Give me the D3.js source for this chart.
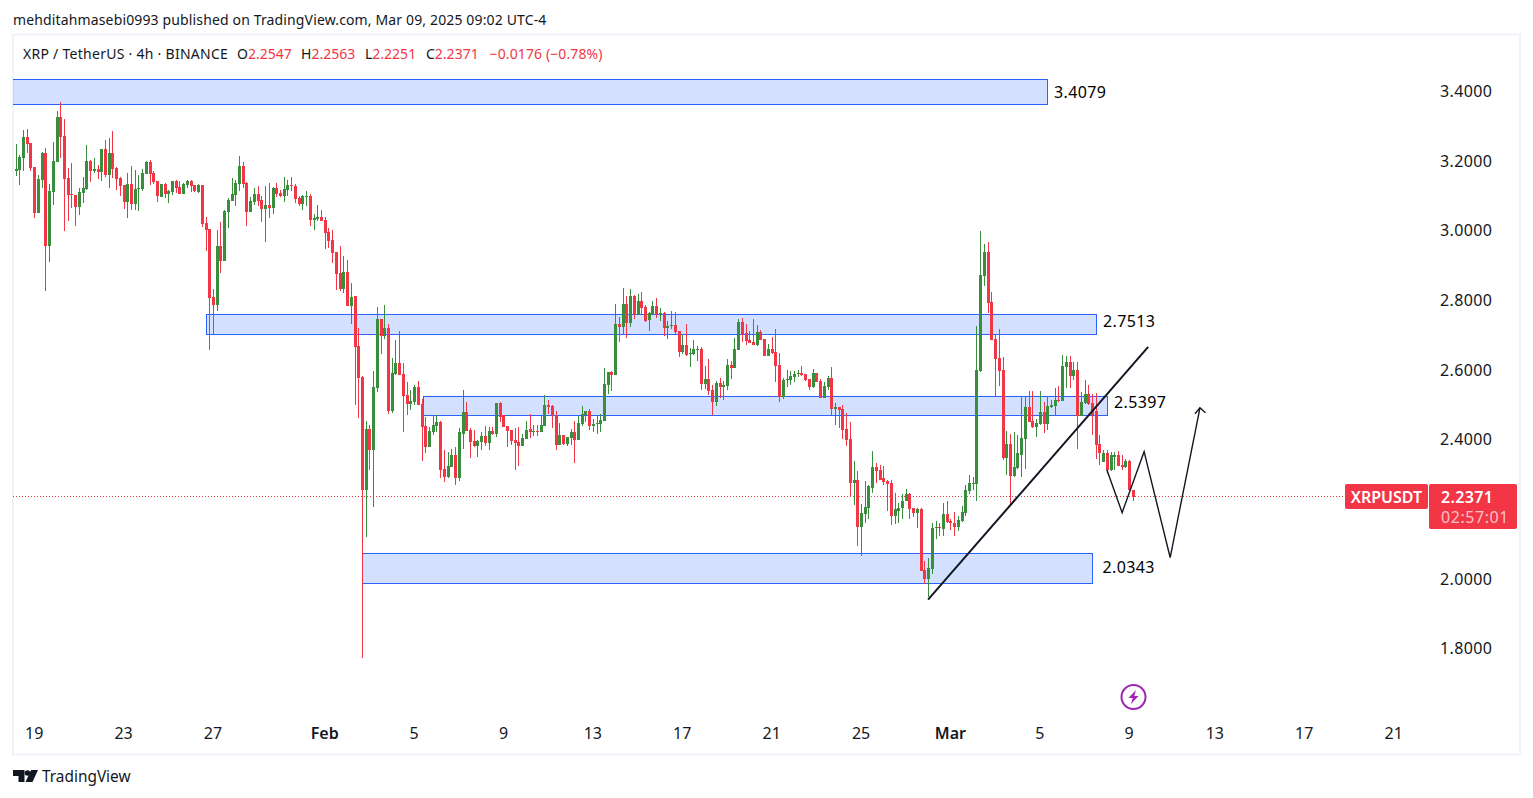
<!DOCTYPE html>
<html><head><meta charset="utf-8">
<style>html,body{margin:0;padding:0;background:#fff}svg{display:block}text{font-family:"Noto Sans",sans-serif}</style>
<script src="https://cdnjs.cloudflare.com/ajax/libs/d3/7.9.0/d3.min.js"></script>
</head><body><svg id="c" width="1533" height="798"></svg>
<script>
// [open, high, low, close], 4h bars from 2025-01-18 04:00
const candles1=[[3.173,3.250,3.156,3.178],[3.175,3.218,3.132,3.212],[3.209,3.290,3.172,3.270],[3.270,3.293,3.224,3.250],[3.252,3.252,3.172,3.181],[3.184,3.184,3.037,3.052],[3.052,3.161,3.052,3.149],[3.146,3.227,3.123,3.224],[3.224,3.238,2.828,2.957],[2.957,3.135,2.911,3.115],
[3.112,3.255,3.075,3.201],[3.198,3.344,3.198,3.327],[3.327,3.370,3.209,3.270],[3.272,3.321,3.000,3.149],[3.152,3.181,3.029,3.103],[3.106,3.195,3.066,3.103],[3.103,3.103,3.014,3.069],[3.069,3.123,3.046,3.112],[3.109,3.155,3.080,3.123],[3.120,3.247,3.118,3.201],
[3.201,3.204,3.141,3.172],[3.172,3.209,3.166,3.178],[3.178,3.189,3.149,3.169],[3.169,3.235,3.143,3.235],[3.235,3.261,3.155,3.161],[3.161,3.267,3.123,3.224],[3.224,3.287,3.152,3.178],[3.181,3.184,3.118,3.149],[3.152,3.155,3.100,3.129],[3.132,3.132,3.063,3.083],
[3.083,3.166,3.037,3.135],[3.135,3.186,3.060,3.077],[3.077,3.175,3.060,3.120],[3.120,3.161,3.057,3.123],[3.120,3.178,3.115,3.166],[3.163,3.201,3.163,3.198],[3.198,3.204,3.132,3.163],[3.166,3.172,3.135,3.141],[3.143,3.143,3.083,3.100],[3.097,3.135,3.097,3.135],
[3.135,3.138,3.095,3.106],[3.106,3.118,3.080,3.115],[3.112,3.143,3.103,3.143],[3.143,3.146,3.109,3.123],[3.126,3.143,3.106,3.106],[3.106,3.138,3.106,3.135],[3.132,3.146,3.123,3.143],[3.143,3.146,3.112,3.129],[3.132,3.132,3.112,3.115],[3.112,3.135,3.109,3.132],
[3.132,3.132,3.011,3.020],[3.023,3.040,2.943,3.003],[3.006,3.006,2.659,2.808],[2.811,2.834,2.702,2.788],[2.788,3.003,2.771,2.957],[2.957,3.026,2.880,2.914],[2.914,3.060,2.914,3.057],[3.055,3.095,3.009,3.089],[3.086,3.152,3.086,3.106],[3.103,3.146,3.072,3.138],[3.135,3.215,3.115,3.186]];
const candles2=[[3.186,3.198,3.123,3.135],[3.138,3.140,3.014,3.054],[3.054,3.097,3.054,3.086],[3.083,3.123,3.074,3.106],[3.106,3.129,3.072,3.086],[3.089,3.100,3.026,3.063],[3.063,3.129,2.968,3.074],[3.074,3.138,3.037,3.066],[3.066,3.126,3.049,3.123],[3.123,3.138,3.097,3.106],
[3.109,3.118,3.097,3.100],[3.100,3.155,3.083,3.120],[3.118,3.146,3.100,3.132],[3.132,3.155,3.115,3.129],[3.129,3.135,3.080,3.092],[3.095,3.100,3.072,3.077],[3.077,3.103,3.060,3.100],[3.097,3.115,3.072,3.100],[3.100,3.106,3.014,3.031],[3.031,3.049,3.003,3.037],
[3.034,3.074,3.029,3.040],[3.040,3.060,3.029,3.029],[3.031,3.040,2.948,2.994],[2.997,3.009,2.951,2.971],[2.974,3.003,2.908,2.937],[2.940,2.940,2.831,2.877],[2.880,2.957,2.828,2.834],[2.834,2.928,2.822,2.882],[2.882,2.917,2.785,2.785],[2.785,2.851,2.733,2.811],
[2.814,2.814,2.501,2.667],[2.670,2.722,2.464,2.578],[2.581,2.584,1.775,2.257],[2.257,2.455,2.122,2.432],[2.432,2.443,2.312,2.372],[2.372,2.598,2.208,2.552],[2.550,2.782,2.538,2.747],[2.747,2.747,2.647,2.699],[2.699,2.788,2.690,2.722],[2.722,2.733,2.475,2.484],
[2.484,2.636,2.478,2.593],[2.590,2.687,2.587,2.621],[2.621,2.713,2.587,2.587],[2.590,2.621,2.423,2.527],[2.530,2.567,2.472,2.504],[2.504,2.544,2.486,2.512],[2.509,2.558,2.501,2.552],[2.552,2.570,2.501,2.501],[2.504,2.518,2.340,2.438],[2.441,2.466,2.363,2.380],
[2.380,2.438,2.378,2.426],[2.423,2.469,2.415,2.443],[2.441,2.472,2.421,2.452],[2.452,2.455,2.289,2.314],[2.317,2.372,2.280,2.294],[2.294,2.366,2.291,2.326],[2.323,2.375,2.323,2.355],[2.355,2.378,2.269,2.289],[2.289,2.435,2.283,2.421],[2.418,2.544,2.375,2.481],
[2.481,2.509,2.426,2.426],[2.429,2.435,2.349,2.395],[2.398,2.429,2.378,2.383],[2.383,2.400,2.352,2.398],[2.395,2.421,2.372,2.412],[2.412,2.441,2.383,2.392],[2.392,2.438,2.372,2.426],[2.426,2.438,2.415,2.418],[2.418,2.507,2.409,2.507],[2.507,2.509,2.452,2.466],
[2.472,2.472,2.438,2.438],[2.441,2.441,2.380,2.426],[2.429,2.429,2.386,2.398],[2.400,2.435,2.314,2.392],[2.395,2.438,2.326,2.383],[2.383,2.418,2.383,2.406],[2.403,2.455,2.403,2.429],[2.432,2.475,2.406,2.421],[2.423,2.443,2.412,2.426],[2.426,2.443,2.412,2.423],
[2.423,2.469,2.423,2.443],[2.441,2.530,2.441,2.501],[2.501,2.515,2.475,2.495],[2.498,2.501,2.435,2.469],[2.472,2.484,2.372,2.386],[2.386,2.449,2.386,2.415],[2.415,2.415,2.386,2.389],[2.389,2.409,2.383,2.409],[2.406,2.432,2.386,2.423],[2.423,2.455,2.334,2.400],[2.400,2.469,2.400,2.449]];
const candles3=[[2.446,2.498,2.441,2.475],[2.472,2.484,2.452,2.484],[2.484,2.489,2.429,2.441],[2.441,2.461,2.421,2.446],[2.444,2.469,2.418,2.449],[2.446,2.475,2.423,2.458],[2.455,2.607,2.455,2.561],[2.558,2.596,2.532,2.596],[2.596,2.598,2.541,2.587],[2.587,2.791,2.587,2.733],
[2.733,2.753,2.682,2.725],[2.725,2.836,2.702,2.791],[2.791,2.813,2.693,2.736],[2.736,2.834,2.725,2.813],[2.813,2.816,2.748,2.759],[2.762,2.819,2.759,2.799],[2.799,2.825,2.762,2.779],[2.782,2.788,2.739,2.742],[2.745,2.768,2.713,2.765],[2.759,2.799,2.759,2.785],
[2.785,2.808,2.750,2.759],[2.759,2.779,2.742,2.765],[2.765,2.768,2.699,2.722],[2.722,2.742,2.690,2.727],[2.727,2.770,2.719,2.730],[2.730,2.768,2.704,2.710],[2.713,2.713,2.639,2.653],[2.653,2.702,2.647,2.673],[2.673,2.733,2.641,2.644],[2.647,2.664,2.610,2.650],
[2.647,2.687,2.644,2.661],[2.659,2.670,2.627,2.661],[2.661,2.667,2.544,2.561],[2.561,2.613,2.547,2.575],[2.575,2.633,2.530,2.541],[2.544,2.558,2.472,2.509],[2.509,2.570,2.498,2.564],[2.564,2.578,2.521,2.552],[2.552,2.570,2.515,2.558],[2.555,2.633,2.544,2.616],
[2.616,2.627,2.575,2.607],[2.607,2.693,2.607,2.661],[2.659,2.748,2.659,2.739],[2.739,2.750,2.682,2.704],[2.707,2.733,2.673,2.684],[2.687,2.713,2.679,2.679],[2.682,2.748,2.673,2.673],[2.673,2.730,2.670,2.710],[2.710,2.716,2.687,2.687],[2.690,2.690,2.641,2.641],
[2.641,2.676,2.641,2.661],[2.661,2.696,2.647,2.650],[2.653,2.719,2.567,2.613],[2.616,2.650,2.509,2.524],[2.524,2.578,2.518,2.572],[2.572,2.601,2.552,2.575],[2.572,2.598,2.558,2.584],[2.581,2.598,2.567,2.590],[2.590,2.601,2.581,2.593],[2.593,2.613,2.584,2.587],
[2.590,2.590,2.570,2.572],[2.575,2.575,2.544,2.552],[2.552,2.604,2.550,2.593],[2.593,2.593,2.567,2.567],[2.570,2.575,2.521,2.521],[2.521,2.567,2.521,2.555],[2.552,2.584,2.544,2.578],[2.578,2.610,2.472,2.489],[2.489,2.507,2.443,2.495],[2.495,2.495,2.435,2.486],
[2.489,2.501,2.403,2.429],[2.432,2.478,2.383,2.400],[2.403,2.452,2.237,2.277],[2.277,2.340,2.214,2.286],[2.286,2.311,2.094,2.151],[2.151,2.217,2.065,2.191],[2.188,2.283,2.160,2.208],[2.205,2.269,2.174,2.266],[2.263,2.369,2.248,2.323],[2.323,2.334,2.277,2.311],
[2.314,2.329,2.286,2.286],[2.289,2.326,2.269,2.280],[2.283,2.286,2.197,2.274],[2.277,2.286,2.154,2.180],[2.180,2.248,2.157,2.200],[2.197,2.220,2.162,2.205],[2.203,2.243,2.174,2.225],[2.223,2.260,2.223,2.243],[2.243,2.248,2.174,2.200],[2.203,2.203,2.177,2.191],
[2.191,2.203,2.148,2.200],[2.200,2.205,2.022,2.022],[2.025,2.053,1.985,1.999],[1.999,2.062,1.950,2.033],[2.030,2.160,2.016,2.148],[2.148,2.168,2.116,2.151],[2.151,2.162,2.125,2.148],[2.145,2.220,2.125,2.188],[2.188,2.223,2.162,2.165],[2.168,2.174,2.142,2.160],
[2.162,2.194,2.125,2.151],[2.151,2.180,2.139,2.171],[2.168,2.211,2.165,2.194],[2.191,2.269,2.180,2.257],[2.254,2.300,2.243,2.277],[2.274,2.294,2.257,2.277],[2.274,2.727,2.223,2.601]];
const candles4=[[2.598,3.000,2.596,2.874],[2.871,2.963,2.842,2.940],[2.940,2.968,2.765,2.793],[2.796,2.825,2.687,2.687],[2.690,2.702,2.527,2.633],[2.636,2.719,2.555,2.598],[2.601,2.639,2.343,2.349],[2.349,2.426,2.300,2.389],[2.389,2.418,2.214,2.297],[2.297,2.423,2.294,2.323],
[2.320,2.415,2.317,2.363],[2.357,2.524,2.294,2.406],[2.403,2.524,2.317,2.495],[2.495,2.541,2.452,2.452],[2.455,2.541,2.435,2.438],[2.438,2.461,2.409,2.449],[2.446,2.541,2.443,2.481],[2.481,2.509,2.420,2.446],[2.446,2.524,2.429,2.498],[2.495,2.515,2.492,2.501],
[2.498,2.550,2.472,2.515],[2.515,2.555,2.509,2.512],[2.512,2.644,2.512,2.613],[2.610,2.641,2.550,2.624],[2.624,2.641,2.550,2.584],[2.584,2.624,2.572,2.601],[2.601,2.624,2.375,2.469],[2.469,2.538,2.469,2.509],[2.507,2.572,2.504,2.532],[2.532,2.558,2.501,2.504],
[2.507,2.532,2.415,2.472],[2.484,2.535,2.346,2.386],[2.389,2.415,2.329,2.363],[2.337,2.372,2.337,2.363],[2.363,2.372,2.303,2.314],[2.314,2.366,2.311,2.355],[2.352,2.366,2.314,2.357],[2.357,2.369,2.326,2.326],[2.329,2.355,2.314,2.323],[2.323,2.346,2.320,2.340],[2.340,2.343,2.254,2.2547],[2.2547,2.2563,2.2251,2.2371]];
const priceTicks=[3.4,3.2,3.0,2.8,2.6,2.4,2.0,1.8];
const tickDates=["2025-01-19","2025-01-23","2025-01-27","2025-02-01","2025-02-05","2025-02-09","2025-02-13","2025-02-17","2025-02-21","2025-02-25","2025-03-01","2025-03-05","2025-03-09","2025-03-12T20:00","2025-03-16T20:00","2025-03-20T20:00"];
const tickLabels=["19","23","27","Feb","5","9","13","17","21","25","Mar","5","9","13","17","21"];
// zones: bar index start/end, price top/bottom, label
const zoneStart=[-1,51.06,109.3,93.07];
const zoneEnd=[277,290.1,293.1,289.05];
const zoneTop=[3.436,2.760,2.525,2.075];
const zoneBottom=[3.364,2.704,2.472,1.989];
const zoneLabels=["3.4079","2.7513","2.5397","2.0343"];
const zoneLabelPrice=[3.398,2.741,2.5085,2.035];
const trendBars=[245,304.1], trendPrices=[1.941,2.667];
const pathBars=[293,297.1,303,310,318], pathPrices=[2.314,2.191,2.366,2.062,2.492];
const lastPrice=2.2371;

const candles=[...candles1,...candles2,...candles3,...candles4];
const barTime=i=>new Date(Date.UTC(2025,0,18,4)+i*4*3600e3);
const x=d3.scaleUtc().domain([new Date("2025-01-19"),new Date("2025-03-09")]).range([34.2,1129.2]);
const y=d3.scaleLinear().domain([3.4,1.8]).range([91.5,648.8]);
const bx=i=>x(barTime(i));
const RED="#F23645",GREEN="#388E3C",INK="#131722",BLUE="#2962FF";
const svg=d3.select("#c");
const defs=svg.append("defs");
defs.append("clipPath").attr("id","plot").append("rect").attr("x",13).attr("y",35).attr("width",1506).attr("height",718);
// frame
svg.append("rect").attr("x",13).attr("y",34.5).attr("width",1507).attr("height",720).attr("fill","#fff").attr("stroke","#F0F3FA").attr("stroke-width",2);
const plot=svg.append("g").attr("clip-path","url(#plot)");
// last price line
plot.append("line").attr("x1",13).attr("x2",1345).attr("y1",Math.floor(y(lastPrice))+.5).attr("y2",Math.floor(y(lastPrice))+.5)
 .attr("stroke",RED).attr("stroke-dasharray","1 2");
// zones
zoneStart.forEach((s,k)=>{
 const x0=Math.round(bx(s))+.5,x1=Math.round(bx(zoneEnd[k]))+.5,y0=Math.round(y(zoneTop[k]))+.5,y1=Math.round(y(zoneBottom[k]))+.5;
 plot.append("rect").attr("x",x0).attr("y",y0).attr("width",x1-x0).attr("height",y1-y0)
  .attr("fill",BLUE).attr("fill-opacity",.2).attr("stroke",BLUE).attr("stroke-width",1);
 plot.append("text").attr("x",x1+(k===3?10:6.5)).attr("y",y(zoneLabelPrice[k])).attr("dy",".36em").attr("font-size",16).attr("letter-spacing",".35").attr("fill","#000").text(zoneLabels[k]);
});
// candles
const g=plot.append("g").attr("shape-rendering","crispEdges");
const cg=g.selectAll("g").data(candles).join("g").attr("fill",d=>d[3]>=d[0]?GREEN:RED);
cg.append("rect").attr("x",(d,i)=>Math.round(bx(i))).attr("width",1)
 .attr("y",d=>Math.round(y(d[1]))).attr("height",d=>Math.max(1,Math.round(y(d[2]))-Math.round(y(d[1]))));
cg.append("rect").attr("x",(d,i)=>Math.round(bx(i))-1).attr("width",3)
 .attr("y",d=>Math.round(y(Math.max(d[0],d[3])))).attr("height",d=>Math.max(1,Math.round(y(Math.min(d[0],d[3])))-Math.round(y(Math.max(d[0],d[3])))));
// trend line and projection
const ln=d3.line().x(d=>bx(d[0])).y(d=>y(d[1]));
plot.append("path").attr("d",ln(trendBars.map((b,i)=>[b,trendPrices[i]]))).attr("fill","none").attr("stroke",INK).attr("stroke-width",2);
plot.append("path").attr("d",ln(pathBars.map((b,i)=>[b,pathPrices[i]]))).attr("fill","none").attr("stroke",INK).attr("stroke-width",1.4);
const tipX=bx(pathBars[4]),tipY=y(pathPrices[4]);
plot.append("path").attr("d",`M${tipX-5},${tipY+6}L${tipX},${tipY}L${tipX+5.5},${tipY+5}`).attr("fill","none").attr("stroke",INK).attr("stroke-width",1.4);
// axes
const ya=d3.axisRight(y).tickValues(priceTicks).tickFormat(d3.format(".4f")).tickSize(0);
const yg=svg.append("g").attr("transform","translate(1440,0)").call(ya);
yg.select(".domain").remove();
yg.selectAll("text").attr("x",0).attr("font-size",16).attr("letter-spacing",".35").attr("fill",INK).style("font-family",'"Noto Sans",sans-serif');
const xa=d3.axisBottom(x).tickValues(tickDates.map(d=>new Date(d+(d.includes("T")?"Z":"")))).tickFormat((d,i)=>tickLabels[i]).tickSize(0);
const xg=svg.append("g").attr("transform","translate(-0.5,725)").call(xa);
xg.select(".domain").remove();
xg.selectAll("text").attr("y",3).attr("font-size",16).attr("fill",INK).style("font-family",'"Noto Sans",sans-serif')
 .attr("font-weight",(d,i)=>/[A-Z]/.test(tickLabels[i])?600:400);
// price tags
svg.append("rect").attr("x",1345).attr("y",484).attr("width",83).attr("height",25).attr("rx",2).attr("fill",RED);
svg.append("rect").attr("x",1429).attr("y",484).attr("width",88).attr("height",45).attr("rx",2).attr("fill",RED);
svg.append("text").attr("x",1386.5).attr("y",497).attr("dy",".36em").attr("text-anchor","middle").attr("font-size",16).attr("font-weight",600).attr("fill","#fff").text("XRPUSDT");
svg.append("text").attr("x",1441).attr("y",497).attr("dy",".36em").attr("font-size",16).attr("font-weight",600).attr("letter-spacing",".35").attr("fill","#fff").text(d3.format(".4f")(lastPrice));
svg.append("text").attr("x",1441).attr("y",517).attr("dy",".36em").attr("font-size",16).attr("letter-spacing",".55").attr("fill","#fff").attr("fill-opacity",.7).text("02:57:01");
// header
svg.append("text").attr("x",13).attr("y",24.5).attr("font-size",14).attr("letter-spacing",".14").attr("fill",INK).text("mehditahmasebi0993 published on TradingView.com, Mar 09, 2025 09:02 UTC-4");
svg.append("text").attr("x",23).attr("y",59).attr("font-size",14).attr("letter-spacing",".27").attr("fill",INK).text("XRP / TetherUS · 4h · BINANCE");
const last=candles[candles.length-1];
const ohlcNames=["O","H","L","C"],ohlcIdx=[0,1,2,3],ohlcX=[237,301,365,426];
ohlcNames.forEach((n,k)=>{
 const t=svg.append("text").attr("x",ohlcX[k]).attr("y",59).attr("font-size",14).attr("fill",INK);
 t.append("tspan").text(n);
 t.append("tspan").attr("fill",RED).text(d3.format(".4f")(last[ohlcIdx[k]]));
});
svg.append("text").attr("x",489.5).attr("y",59).attr("font-size",14).attr("letter-spacing",".12").attr("fill",RED).text("−0.0176 (−0.78%)");
// bolt badge
const badge=svg.append("g").attr("transform","translate(1133.5,697)");
badge.append("circle").attr("r",12).attr("fill","#fff").attr("stroke","#9C27B0").attr("stroke-width",2);
badge.append("path").attr("d","M2.5,-7 L-5,1 L-0.8,1 L-2.5,7 L5,-1 L0.8,-1 Z").attr("fill","#9C27B0");
// logo
svg.append("path").attr("fill",INK).attr("d","M13,770H24.5V782H18.5V776H13Z");
svg.append("circle").attr("cx",27.5).attr("cy",773).attr("r",2.8).attr("fill",INK);
svg.append("path").attr("fill",INK).attr("d","M31,770H38L32.5,782H25.5Z");
svg.append("text").attr("x",42).attr("y",782).attr("font-size",15.4).attr("fill",INK).text("TradingView");
</script></body></html>
